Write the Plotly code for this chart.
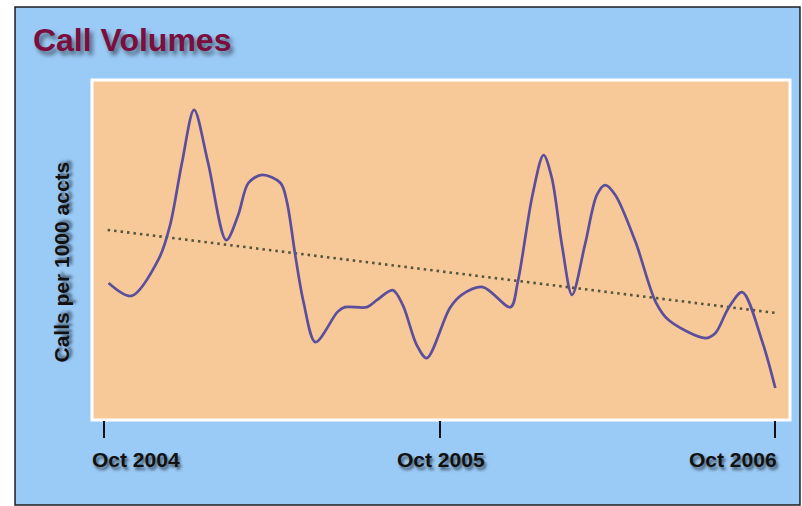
import plotly.graph_objects as go

# Call volume readings (calls per 1000 accounts)
dates = [
    "2004-10-06", "2004-10-31", "2004-11-30", "2004-12-12", "2004-12-25",
    "2005-01-07", "2005-01-22", "2005-02-11", "2005-02-24",
    "2005-03-07", "2005-03-22", "2005-04-11", "2005-04-18", "2005-04-27",
    "2005-05-06", "2005-05-19", "2005-06-12", "2005-06-20", "2005-07-14",
    "2005-07-25", "2005-08-11", "2005-08-22", "2005-09-06", "2005-09-17",
    "2005-10-12", "2005-10-25", "2005-11-17", "2005-12-17", "2005-12-25",
    "2006-01-10", "2006-01-22", "2006-01-31", "2006-02-11", "2006-02-22",
    "2006-03-08", "2006-03-21", "2006-03-30", "2006-04-10", "2006-05-02",
    "2006-05-24", "2006-06-07", "2006-07-17", "2006-07-28", "2006-08-11",
    "2006-08-26", "2006-09-17", "2006-10-01",
]
calls = [
    40.3, 36.5, 47.6, 57.4, 75.9,
    91.2, 75.9, 52.9, 60.3,
    69.7, 72.1, 69.7, 64.1, 48.5,
    34.7, 22.9, 31.8, 33.2, 33.2,
    35.3, 38.2, 33.8, 22.1, 18.2,
    32.9, 36.8, 39.1, 33.2, 40.6,
    66.2, 77.9, 71.2, 51.5, 36.8,
    51.5, 66.2, 69.1, 66.2, 52.4,
    34.7, 29.4, 24.1, 25.6, 32.9,
    37.6, 22.9, 9.4,
]

# Linear trend across the period
trend_dates = ["2004-10-05", "2006-10-01"]
trend_values = [55.9, 31.5]

# Axis labelling
tick_dates = ["2004-10-01", "2005-10-01", "2006-10-01"]
tick_labels = ["Oct 2004", "Oct 2005", "Oct 2006"]
x_range = ["2004-09-18", "2006-10-17"]
y_range = [0, 100]

BLUE = "#9ACAF6"
ORANGE = "#F7C998"
LINE = "#5B4E9D"
TREND = "#55553F"
FONT = "Liberation Sans, Arial, sans-serif"
SHADOW = "2px 3px 3px rgba(0,0,0,0.55)"

fig = go.Figure()

fig.add_trace(go.Scatter(
    x=trend_dates, y=trend_values, mode="lines",
    line=dict(color=TREND, width=2.6, dash="2.5px,4px"),
    hoverinfo="skip", showlegend=False,
))
fig.add_trace(go.Scatter(
    x=dates, y=calls, mode="lines",
    line=dict(color=LINE, width=2.7, shape="spline", smoothing=0.9),
    showlegend=False,
))

# Outer blue panel with dark frame, and the orange plotting panel with white edge
fig.add_shape(type="rect", xref="paper", yref="paper",
              x0=-0.1103, x1=1.0143, y0=-0.25, y1=1.2147,
              fillcolor=BLUE, line=dict(color="#1E1E1E", width=1.5),
              layer="below")
fig.add_shape(type="rect", xref="paper", yref="paper",
              x0=0, x1=1, y0=0, y1=1,
              fillcolor=ORANGE, line=dict(color="white", width=3),
              layer="below")

# Tick labels: first aligned to start at its tick, last to end at its tick
label_anchors = ["left", "center", "right"]
label_shifts = [-14, 1, 4]
for d, txt, anc, sh in zip(tick_dates, tick_labels, label_anchors, label_shifts):
    fig.add_annotation(
        text=txt, xref="x", yref="paper", x=d, y=-0.1176,
        xanchor=anc, yanchor="middle", xshift=sh, showarrow=False,
        font=dict(family=FONT, size=21, color="#111111", weight="bold", shadow=SHADOW),
    )

fig.add_annotation(
    text="Calls per 1000 accts", textangle=-90,
    xref="paper", yref="paper", x=-0.0435, y=0.465,
    xanchor="center", yanchor="middle", showarrow=False,
    font=dict(family=FONT, size=21, color="#111111", weight="bold", shadow=SHADOW),
)

fig.update_layout(
    width=802, height=506,
    margin=dict(l=92, r=12, t=80, b=86),
    paper_bgcolor="white",
    plot_bgcolor="rgba(0,0,0,0)",
    title=dict(
        text="Call Volumes", xref="container", yref="container",
        x=0.041, y=0.921, xanchor="left", yanchor="middle",
        font=dict(family=FONT, size=32, color="#7A0E3E", weight="bold",
                  shadow="3px 4px 4px rgba(0,0,0,0.5)"),
    ),
    xaxis=dict(
        type="date", range=x_range, tickvals=tick_dates, ticktext=tick_labels,
        showticklabels=False,
        ticks="outside", ticklen=17, tickwidth=1.5, tickcolor="#111111",
        showgrid=False, zeroline=False, showline=False,
    ),
    yaxis=dict(
        range=y_range, showticklabels=False, ticks="",
        showgrid=False, zeroline=False, showline=False,
    ),
)

fig.write_html("out.html")
